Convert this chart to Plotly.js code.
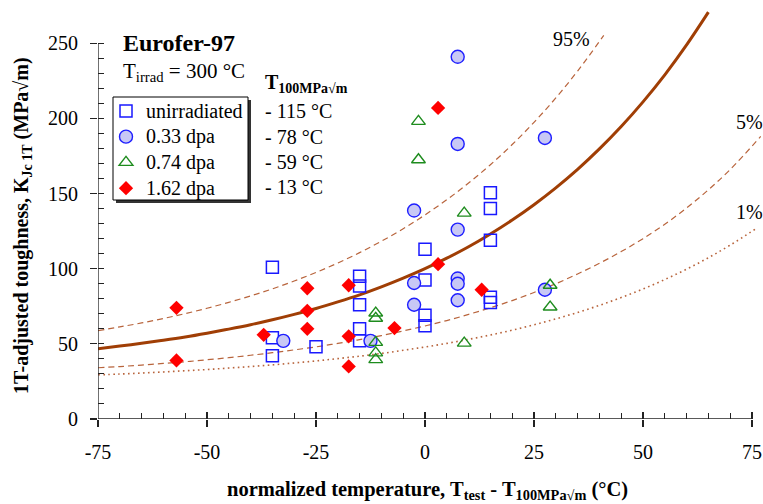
<!DOCTYPE html>
<html>
<head>
<meta charset="utf-8">
<script src="https://cdn.plot.ly/plotly-3.0.1.min.js"></script>
<style>html,body{margin:0;padding:0;background:#fff;}#chart{width:763px;height:504px;}</style>
</head>
<body>
<div id="chart"></div>
<script>
// ---- data ----
const seriesNames = ['unirradiated', '0.33 dpa', '0.74 dpa', '1.62 dpa'];

const unirrX = [-35, -35, -35, -25, -15, -15, -15, -15, -15, 0, 0, 0, 0, 15, 15, 15, 15, 15];
const unirrY = [101, 54, 42, 48, 95, 88.5, 76, 60, 52, 113, 92.5, 69, 62, 150.5, 140, 119, 81, 77.5];

const dpa033X = [7.5, 7.5, 27.5, -2.5, 7.5, -2.5, 7.5, 7.5, 7.5, -2.5, 27.5, -32.5, -12.5];
const dpa033Y = [241, 183, 187, 138.7, 126, 90.5, 93.5, 90, 79, 76, 86, 52, 52];

const dpa074X = [-1.5, -1.5, 9, -11.3, -11.3, -11.3, -11.3, -11.3, 9, 28.7, 28.7];
const dpa074Y = [198, 172.5, 137, 70.5, 67, 51, 44, 39.5, 50.5, 89, 74.5];

const dpa162X = [-57, -57, -37, -27, -27, -27, -17.5, -17.5, -17.5, -7, 3, 3, 13];
const dpa162Y = [74, 39, 56, 87, 72, 60, 89, 55, 35, 60.5, 103, 207, 86];

// T100 values per series
const t100Labels = ['- 115 °C', '- 78 °C', '- 59 °C', '- 13 °C'];

// master curve (median) and tolerance bounds
const medX = [-75, -70, -65, -60, -55, -50, -45, -40, -35, -30, -25, -20, -15, -10, -5, 0, 5, 10, 15, 20, 25, 30, 35, 40, 45, 50, 55, 60, 65];
const medY = [46.8, 48.5, 50.4, 52.4, 54.6, 57.1, 59.8, 62.7, 66.0, 69.6, 73.5, 77.9, 82.6, 87.9, 93.7, 100, 107.0, 114.6, 123.1, 132.4, 142.6, 153.8, 166.1, 179.7, 194.6, 211.0, 229.0, 248.9, 270.7];

const p95X = [-75, -70, -65, -60, -55, -50, -45, -40, -35, -30, -25, -20, -15, -10, -5, 0, 5, 10, 15, 20, 25, 30, 35, 41];
const p95Y = [58.8, 61.3, 63.9, 66.9, 70.1, 73.7, 77.6, 81.9, 86.6, 91.8, 97.5, 103.8, 110.7, 118.3, 126.6, 135.8, 145.9, 157.0, 169.2, 182.6, 197.4, 213.6, 231.5, 255.2];

const p05X = [-75, -70, -65, -60, -55, -50, -45, -40, -35, -30, -25, -20, -15, -10, -5, 0, 5, 10, 15, 20, 25, 30, 35, 40, 45, 50, 55, 60, 65, 70, 77];
const p05Y = [34.1, 34.9, 35.9, 37.0, 38.1, 39.4, 40.8, 42.4, 44.1, 46.0, 48.0, 50.3, 52.8, 55.5, 58.6, 61.9, 65.5, 69.6, 74.0, 78.8, 84.2, 90.0, 96.5, 103.6, 111.4, 120.0, 129.6, 140.4, 152.5, 166.0, 188.0];

const p01X = [-75, -70, -65, -60, -55, -50, -45, -40, -35, -30, -25, -20, -15, -10, -5, 0, 5, 10, 15, 20, 25, 30, 35, 40, 45, 50, 55, 60, 65, 70, 76];
const p01Y = [29.4, 29.9, 30.6, 31.3, 32.1, 32.9, 33.9, 34.9, 36.0, 37.3, 38.6, 40.2, 41.8, 43.6, 45.7, 47.9, 50.3, 53.0, 55.9, 59.1, 62.7, 66.6, 70.9, 75.6, 80.8, 86.5, 92.8, 99.7, 107.3, 115.7, 126.8];

const xMajor = [-75, -50, -25, 0, 25, 50, 75];
const xMinor = [-70, -65, -60, -55, -45, -40, -35, -30, -20, -15, -10, -5, 5, 10, 15, 20, 30, 35, 40, 45, 55, 60, 65, 70];
const yMajor = [0, 50, 100, 150, 200, 250];
const yMinor = [10, 20, 30, 40, 60, 70, 80, 90, 110, 120, 130, 140, 160, 170, 180, 190, 210, 220, 230, 240];

// ---- layout helpers (pixel -> paper) ----
const L = 98, W = 665, H = 419;
const px = v => (v - L) / W;
const py = v => 1 - v / H;

const FONT = 'Liberation Serif, Times New Roman, serif';
const brown = 'rgb(160,62,5)';
const brownLight = 'rgb(184,100,60)';

const traces = [
  {x: medX, y: medY, mode: 'lines', line: {color: brown, width: 3, shape: 'spline'}, showlegend: false, hoverinfo: 'skip'},
  {x: p95X, y: p95Y, mode: 'lines', line: {color: brownLight, width: 1.2, dash: '6px,4px', shape: 'spline'}, showlegend: false, hoverinfo: 'skip'},
  {x: p05X, y: p05Y, mode: 'lines', line: {color: brownLight, width: 1.2, dash: '6px,4px', shape: 'spline'}, showlegend: false, hoverinfo: 'skip'},
  {x: p01X, y: p01Y, mode: 'lines', line: {color: brownLight, width: 1.6, dash: '1.6px,3.4px', shape: 'spline'}, showlegend: false, hoverinfo: 'skip'},
  {x: unirrX, y: unirrY, mode: 'markers', name: '<span style="font-size:20px">' + seriesNames[0] + '</span>',
   marker: {symbol: 'square-open', size: 12, color: 'rgb(25,25,255)', line: {width: 1.5}}},
  {x: dpa033X, y: dpa033Y, mode: 'markers', name: '<span style="font-size:20px">' + seriesNames[1] + '</span>',
   marker: {symbol: 'circle', size: 13, color: 'rgb(200,200,245)', line: {color: 'rgb(30,30,255)', width: 1.4}}},
  {x: dpa074X, y: dpa074Y, mode: 'markers', name: '<span style="font-size:20px">' + seriesNames[2] + '</span>',
   marker: {symbol: 'triangle-up-open', size: 12, color: 'rgb(30,140,30)', line: {width: 1.4}}},
  {x: dpa162X, y: dpa162Y, mode: 'markers', name: '<span style="font-size:20px">' + seriesNames[3] + '</span>',
   marker: {symbol: 'diamond', size: 11, color: 'rgb(255,0,0)', line: {width: 0}}},
  {x: [], y: [], xaxis: 'x2', yaxis: 'y2', showlegend: false, hoverinfo: 'skip'}
];

const annotations = [
  {text: '<b>Eurofer-97</b>', x: px(121), y: py(43), xanchor: 'left', yanchor: 'middle', font: {size: 24}},
  {text: 'T<sub>irrad</sub> = 300 °C', x: px(121), y: py(72), xanchor: 'left', yanchor: 'middle', font: {size: 21}},
  {text: '<b>T<sub>100MPa√m</sub></b>', x: px(263), y: py(83), xanchor: 'left', yanchor: 'middle', font: {size: 20}},
  {text: '95%', x: px(571), y: py(39), xanchor: 'center', yanchor: 'middle', font: {size: 20}},
  {text: '5%', x: px(749), y: py(122), xanchor: 'center', yanchor: 'middle', font: {size: 20}},
  {text: '1%', x: px(749), y: py(212), xanchor: 'center', yanchor: 'middle', font: {size: 20}},
  {text: '<b>1T-adjusted toughness, K<sub>Jc 1T</sub> (MPa√m)</b>', x: px(22), y: py(226), textangle: -90, xanchor: 'center', yanchor: 'middle', font: {size: 20}},
  {text: '<b>normalized temperature, T<sub>test</sub> - T<sub>100MPa√m</sub> (°C)</b>', x: px(427), y: py(490), xanchor: 'center', yanchor: 'middle', font: {size: 20.5}}
];
const rowY = [111, 136.5, 161.5, 186.5];
t100Labels.forEach((t, i) => annotations.push({text: t, x: px(263), y: py(rowY[i]), xanchor: 'left', yanchor: 'middle', font: {size: 20}}));
annotations.forEach(a => { a.xref = 'paper'; a.yref = 'paper'; a.showarrow = false; a.font.family = FONT; a.font.color = '#000'; });

const shapes = [
  // legend shadow and frame
  {type: 'rect', xref: 'paper', yref: 'paper', x0: px(116), x1: px(251), y0: py(100), y1: py(203), fillcolor: '#333', line: {width: 0}, layer: 'above'},
  {type: 'rect', xref: 'paper', yref: 'paper', x0: px(113), x1: px(248), y0: py(97), y1: py(200), fillcolor: '#fff', line: {color: '#000', width: 1}, layer: 'above'},
  // axis lines
  {type: 'line', xref: 'x', yref: 'y', x0: -75, x1: 75, y0: 0, y1: 0, line: {color: '#222', width: 1.3}},
  {type: 'line', xref: 'x', yref: 'y', x0: -75, x1: -75, y0: 0, y1: 250, line: {color: '#222', width: 1.3}}
];

const xr = [-75, -75 + W / 4.36];
const yr = [0, H / 1.503];

const layout = {
  width: 763, height: 504,
  margin: {l: L, r: 763 - L - W, t: 0, b: 504 - H},
  paper_bgcolor: '#fff', plot_bgcolor: '#fff',
  font: {family: FONT, color: '#000', size: 20},
  showlegend: true,
  legend: {x: px(106), y: py(93), xanchor: 'left', yanchor: 'top', bgcolor: 'rgba(0,0,0,0)', borderwidth: 0,
           font: {family: FONT, size: 17.5, color: '#000'}, traceorder: 'normal'},
  xaxis: {range: xr, showgrid: false, zeroline: false, showline: false, tickmode: 'array', tickvals: xMajor,
          ticktext: xMajor.map(String), ticks: 'outside', ticklen: 7, tickwidth: 1.2, tickcolor: '#222',
          tickfont: {family: FONT, size: 20}, ticklabelstandoff: 8,
          minor: {tickmode: 'array', tickvals: xMinor, ticks: 'inside', ticklen: 6, tickwidth: 1, tickcolor: '#222', showgrid: false}},
  yaxis: {range: yr, showgrid: false, zeroline: false, showline: false, tickmode: 'array', tickvals: yMajor,
          ticks: 'outside', ticklen: 7, tickwidth: 1.2, tickcolor: '#222',
          tickfont: {family: FONT, size: 20}, ticklabelstandoff: 8,
          minor: {tickmode: 'array', tickvals: yMinor, ticks: 'inside', ticklen: 6, tickwidth: 1, tickcolor: '#222', showgrid: false}},
  xaxis2: {overlaying: 'x', anchor: 'y', side: 'bottom', range: xr, showgrid: false, zeroline: false, showline: false,
           tickmode: 'array', tickvals: xMajor, ticks: 'inside', ticklen: 7, tickwidth: 1.2, tickcolor: '#222', showticklabels: false},
  yaxis2: {overlaying: 'y', anchor: 'x', side: 'left', range: yr, showgrid: false, zeroline: false, showline: false,
           tickmode: 'array', tickvals: yMajor, ticks: 'inside', ticklen: 6, tickwidth: 1.2, tickcolor: '#222', showticklabels: false},
  annotations: annotations,
  shapes: shapes
};

Plotly.newPlot('chart', traces, layout, {displayModeBar: false, staticPlot: true});
</script>
</body>
</html>
